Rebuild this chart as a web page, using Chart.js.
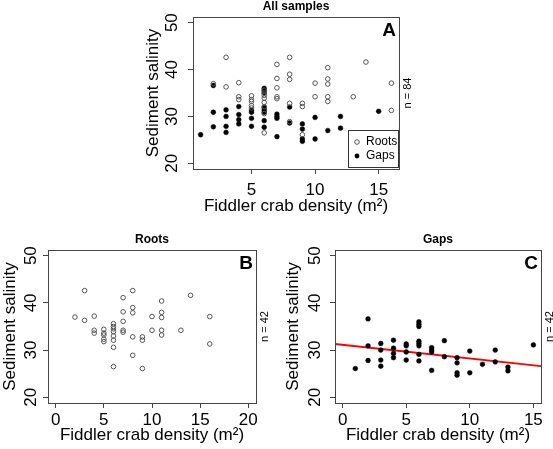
<!DOCTYPE html>
<html>
<head>
<meta charset="utf-8">
<script src="https://cdn.jsdelivr.net/npm/chart.js@4"></script>
<style>
  html, body { margin: 0; padding: 0; background: #fff; }
  #wrap { position: relative; width: 553px; height: 449px; }
  canvas { position: absolute; left: 0; top: 0; }
</style>
</head>
<body>
<div id="wrap">
  <canvas id="panelA" width="553" height="449"></canvas>
  <canvas id="panelB" width="553" height="449"></canvas>
  <canvas id="panelC" width="553" height="449"></canvas>
</div>
<script>
// datos
const rootsX = [2, 3, 3, 4, 4, 4, 5, 5, 5, 5, 5, 6, 6, 6, 6, 6, 6, 6, 6, 7, 7, 7, 7, 7,
  8, 8, 8, 8, 8, 9, 9, 9, 10, 10, 11, 11, 11, 11, 11, 13, 14, 16, 16];
const rootsY = [37.0, 42.6, 36.3, 37.2, 34.2, 33.6, 34.4, 33.6, 33.2, 32.3, 31.8,
  35.6, 35.0, 34.5, 33.9, 33.0, 32.1, 30.6, 26.5, 41.1, 38.1, 36.1, 34.2, 33.8,
  42.6, 39.0, 37.9, 32.8, 28.9, 32.8, 32.1, 26.1, 37.1, 34.2, 40.4, 38.0, 36.9, 34.2, 33.2,
  34.2, 41.6, 37.1, 31.3];

const gapsX = [1, 2, 2, 2, 3, 3, 3, 3, 4, 4, 4, 4, 5, 5, 5, 5, 6, 6, 6, 6, 6, 6, 6, 6,
  7, 7, 7, 7, 8, 8, 9, 9, 9, 9, 10, 10, 11, 12, 12, 13, 13, 15];
const gapsY = [26.1, 36.6, 30.9, 27.8, 31.4, 30.0, 27.9, 26.6, 32.1, 30.4, 29.3, 28.4,
  31.3, 30.9, 29.6, 27.9, 36.0, 35.5, 35.0, 31.9, 31.4, 30.9, 29.1, 27.7,
  30.5, 30.0, 29.6, 25.7, 32.0, 28.6, 28.4, 27.3, 25.2, 24.7, 29.8, 25.2, 27.0,
  30.0, 27.5, 26.4, 25.6, 31.1];

// recta de regresion (panel C)
const fitX = [-0.6, 15.6];
const fitY = [31.3, 26.6];

const yTicks = [20, 30, 40, 50];
const xTicksA = [5, 10, 15];
const xTicksB = [0, 5, 10, 15, 20];
const xTicksC = [0, 5, 10, 15];

const FONT = "'Liberation Sans', Arial, sans-serif";
const W = 553, H = 449;

const toPts = (xs, ys) => xs.map((x, i) => ({ x: x, y: ys[i] }));

const rootsSet = () => ({
  label: 'Roots', data: toPts(rootsX, rootsY),
  pointRadius: 2.3, pointBackgroundColor: 'rgba(255,255,255,0)',
  pointBorderColor: '#555', pointBorderWidth: 1
});
const gapsSet = () => ({
  label: 'Gaps', data: toPts(gapsX, gapsY),
  pointRadius: 2.4, pointBackgroundColor: '#000',
  pointBorderColor: '#000', pointBorderWidth: 0.5
});

// Plugin que dibuja la caja, etiquetas rotadas, titulos y leyenda estilo R
const decoPlugin = {
  id: 'deco',
  afterDraw(chart, args, o) {
    const ctx = chart.ctx;
    const a = chart.chartArea;
    const ys = chart.scales.y;
    ctx.save();
    // caja
    ctx.strokeStyle = '#444';
    ctx.lineWidth = 1;
    ctx.strokeRect(Math.round(a.left) + 0.5, Math.round(a.top) + 0.5,
      Math.round(a.right - a.left), Math.round(a.bottom - a.top));
    ctx.fillStyle = '#000';
    // etiquetas del eje y (rotadas como en R)
    ctx.font = '17px ' + FONT;
    ctx.textAlign = 'center';
    ctx.textBaseline = 'middle';
    yTicks.forEach(v => {
      ctx.save();
      ctx.translate(a.left - o.yLabOff, ys.getPixelForValue(v));
      ctx.rotate(-Math.PI / 2);
      ctx.fillText(String(v), 0, 0);
      ctx.restore();
    });
    // titulo del eje y
    ctx.font = '17px ' + FONT;
    ctx.save();
    ctx.translate(a.left - o.yTitleOff, (a.top + a.bottom) / 2);
    ctx.rotate(-Math.PI / 2);
    ctx.fillText('Sediment salinity', 0, 0);
    ctx.restore();
    // titulo del eje x
    ctx.fillText('Fiddler crab density (m²)', (a.left + a.right) / 2, a.bottom + o.xTitleOff);
    // titulo del panel
    ctx.font = 'bold 12px ' + FONT;
    ctx.fillText(o.title, (a.left + a.right) / 2, a.top - 10);
    // letra
    ctx.font = 'bold 19px ' + FONT;
    ctx.fillText(o.letter, a.right - 10, a.top + 14);
    // n
    ctx.font = '11px ' + FONT;
    ctx.save();
    ctx.translate(a.right + 9, (a.top + a.bottom) / 2);
    ctx.rotate(-Math.PI / 2);
    ctx.fillText(o.n, 0, 0);
    ctx.restore();
    // leyenda (fondo blanco, tapa los puntos como en R)
    if (o.legend) {
      const lx = Math.round(a.right - 51), ly = Math.round(a.bottom - 39);
      ctx.fillStyle = '#fff';
      ctx.fillRect(lx, ly, 51, 38);
      ctx.strokeStyle = '#333';
      ctx.strokeRect(lx + 0.5, ly + 0.5, 50, 37);
      ctx.fillStyle = '#000';
      ctx.font = '12px ' + FONT;
      ctx.textAlign = 'left';
      ctx.beginPath();
      ctx.arc(lx + 9, ly + 12, 2.3, 0, Math.PI * 2);
      ctx.strokeStyle = '#555';
      ctx.stroke();
      ctx.fillText('Roots', lx + 18, ly + 12);
      ctx.beginPath();
      ctx.arc(lx + 9, ly + 26, 2.4, 0, Math.PI * 2);
      ctx.fill();
      ctx.fillText('Gaps', lx + 18, ly + 26);
    }
    ctx.restore();
  }
};

function makePanel(id, box, datasets, xMin, xMax, xTicks, deco) {
  const yW = 30, xH = 30;
  return new Chart(document.getElementById(id), {
    type: 'scatter',
    data: { datasets: datasets },
    options: {
      responsive: false,
      animation: false,
      events: [],
      layout: {
        padding: {
          left: box.left - yW, right: W - box.right,
          top: box.top, bottom: H - box.bottom - xH
        }
      },
      plugins: { legend: { display: false }, tooltip: { enabled: false }, deco: deco },
      scales: {
        x: {
          type: 'linear', min: xMin, max: xMax,
          afterBuildTicks: s => { s.ticks = xTicks.map(v => ({ value: v })); },
          afterFit: s => { s.height = xH; },
          grid: { drawOnChartArea: false, drawTicks: true, tickLength: 5, color: '#444' },
          border: { display: false },
          ticks: { color: '#000', font: { family: FONT, size: 17 }, padding: deco.xTickPad,
            maxRotation: 0, autoSkip: false }
        },
        y: {
          type: 'linear', min: 18.8, max: 51.2,
          afterBuildTicks: s => { s.ticks = yTicks.map(v => ({ value: v })); },
          afterFit: s => { s.width = yW; },
          grid: { drawOnChartArea: false, drawTicks: true, tickLength: 5, color: '#444' },
          border: { display: false },
          ticks: { color: 'rgba(0,0,0,0)', font: { family: FONT, size: 15 } }
        }
      }
    },
    plugins: [decoPlugin]
  });
}

makePanel('panelA', { left: 193, right: 399, top: 17, bottom: 169 },
  [rootsSet(), gapsSet()], 0.4, 16.6, xTicksA,
  { title: 'All samples', letter: 'A', n: 'n = 84', legend: true,
    yLabOff: 21, yTitleOff: 40, xTitleOff: 37, xTickPad: 6 });

makePanel('panelB', { left: 48, right: 256, top: 250, bottom: 403 },
  [rootsSet()], -0.8, 20.8, xTicksB,
  { title: 'Roots', letter: 'B', n: 'n = 42', legend: false,
    yLabOff: 17, yTitleOff: 38, xTitleOff: 32, xTickPad: 2 });

makePanel('panelC', { left: 335, right: 541, top: 250, bottom: 403 },
  [gapsSet(), {
    type: 'line', label: 'fit', data: toPts(fitX, fitY),
    borderColor: '#ff0000', borderWidth: 1.8, pointRadius: 0, showLine: true
  }], -0.6, 15.6, xTicksC,
  { title: 'Gaps', letter: 'C', n: 'n = 42', legend: false,
    yLabOff: 20, yTitleOff: 42, xTitleOff: 32, xTickPad: 2 });
</script>
</body>
</html>
